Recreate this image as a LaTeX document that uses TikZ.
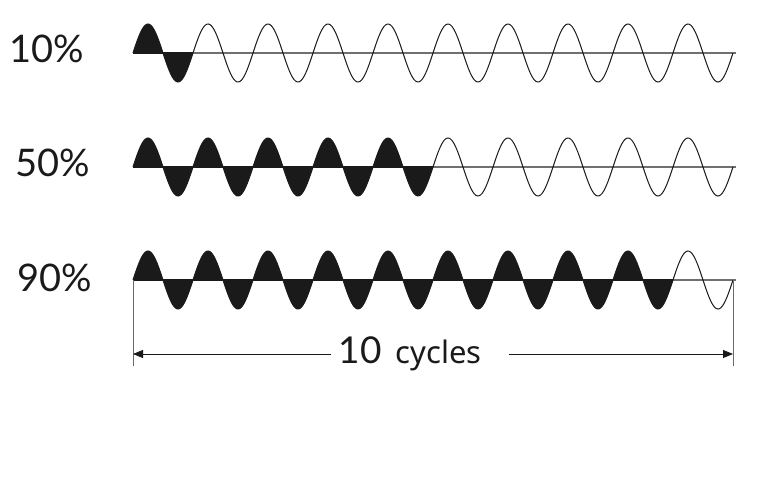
\documentclass[tikz,border=0pt]{standalone}
\usepackage{fontspec}
\setmainfont{Lato}
\newfontfamily\wordfont{Noto Sans}
\usepackage{xcolor}
\definecolor{ink}{HTML}{1A1A1A}
\definecolor{axisgray}{HTML}{707070}
\usetikzlibrary{arrows.meta}
\tikzset{
  >={Triangle[length=10pt, width=8pt]},
  pct/.style={font=\fontsize{38}{38}\selectfont, text=ink, anchor=base, inner sep=0pt},
  wave/.style={line width=1pt, draw=ink},
  lobe/.style={fill=ink},
  midline/.style={line width=1.1pt, draw=axisgray},
  dim/.style={->, line width=0.8pt, color=ink},
  ext/.style={line width=0.8pt, color=ink!65},
}

\begin{document}
\begin{tikzpicture}[x=1pt, y=-1pt]
  \useasboundingbox (0,0) rectangle (764,478);

  % one row per duty value: label, filled cycles, full wave
  \foreach \val/\n/\yy/\lx/\by in {10/1/53/47/63, 50/5/167/53/177, 90/9/280/55/292} {
    \coordinate (start\val) at (133,\yy);
    \coordinate (end\val) at (733,\yy);
    \draw[midline] (start\val) -- ([xshift=3pt]end\val);
    \fill[lobe] (start\val) -- plot[domain=0:60*\n, samples=40*\n]
      ({133+\x}, {\yy-29*sin(6*\x)}) -- cycle;
    \draw[ink, line width=1.1pt] (start\val) -- ++(60*\n,0);
    \draw[wave] plot[domain=0:600, samples=400] ({133+\x}, {\yy-29*sin(6*\x)});
    \node[pct] (lab\val) at (\lx,\by) {\val\%};
  }

  % dimension for the ten cycles
  \coordinate (tickL) at (133,366);
  \coordinate (tickR) at (733,366);
  \draw[ext] (start90) -- (tickL);
  \draw[ext] (end90) -- (tickR);
  \node[inner sep=0pt, text=ink] (cyc) at (410,354)
    {\fontsize{37}{37}\selectfont 10\hspace{14pt}{\wordfont\fontsize{31}{31}\selectfont cycles}};
  \draw[dim] ([xshift=-7pt]cyc.west) -- (tickL |- cyc.west);
  \draw[dim] ([xshift=27pt]cyc.east) -- (tickR |- cyc.east);
\end{tikzpicture}
\end{document}
